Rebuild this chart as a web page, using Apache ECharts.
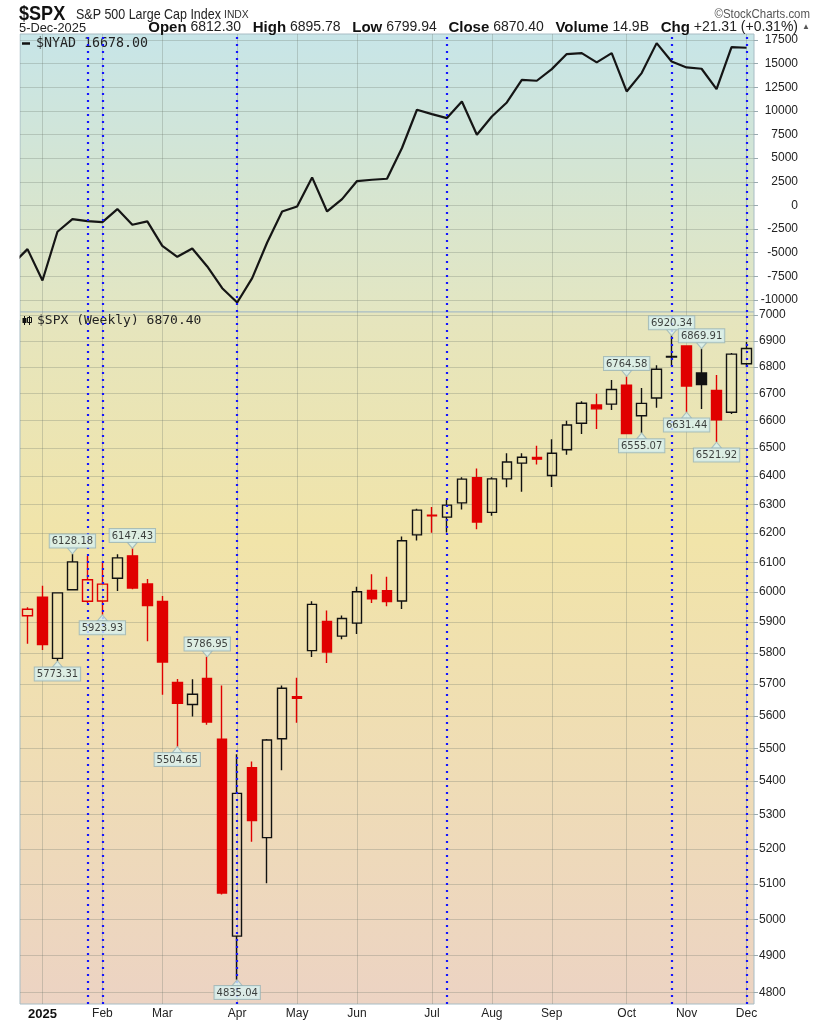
<!DOCTYPE html>
<html><head><meta charset="utf-8">
<script src="https://cdn.jsdelivr.net/npm/echarts@6/dist/echarts.min.js"></script>
<style>html,body{margin:0;padding:0;background:#fff}#c{width:819px;height:1024px}</style>
</head><body><div id="c"></div>
<script>
// ---- data ----
const weeks = ['2025-01-03','2025-01-10','2025-01-17','2025-01-24','2025-01-31',
 '2025-02-07','2025-02-14','2025-02-21','2025-02-28',
 '2025-03-07','2025-03-14','2025-03-21','2025-03-28',
 '2025-04-04','2025-04-11','2025-04-18','2025-04-25',
 '2025-05-02','2025-05-09','2025-05-16','2025-05-23','2025-05-30',
 '2025-06-06','2025-06-13','2025-06-20','2025-06-27',
 '2025-07-03','2025-07-11','2025-07-18','2025-07-25',
 '2025-08-01','2025-08-08','2025-08-15','2025-08-22','2025-08-29',
 '2025-09-05','2025-09-12','2025-09-19','2025-09-26',
 '2025-10-03','2025-10-10','2025-10-17','2025-10-24','2025-10-31',
 '2025-11-07','2025-11-14','2025-11-21','2025-11-28','2025-12-05'];
const opens  = [5920.7,5982.0,5782.0,6007.0,5969.0,5969.7,6046.0,6121.6,6026.7,5968.3,5705.4,5635.6,5718.1,5527.9,4953.8,5441.0,5232.9,5529.2,5655.3,5807.1,5902.0,5854.1,5896.7,6004.6,6004.0,5969.7,6193.4,6262.0,6255.2,6304.7,6394.0,6271.7,6389.7,6445.8,6466.0,6401.5,6494.2,6590.6,6658.0,6661.2,6732.0,6618.0,6684.0,6838.0,6880.0,6778.0,6712.0,6631.0,6812.30];
const highs  = [5949.3,6021.0,5998.0,6128.18,6120.9,6101.3,6127.5,6147.43,6043.6,5986.1,5716.0,5715.3,5786.95,5695.3,5481.3,5459.5,5528.1,5695.3,5720.1,5969.0,5938.4,5922.1,6016.9,6059.4,6050.8,6187.7,6284.7,6290.2,6315.6,6395.8,6427.0,6395.2,6481.3,6481.3,6508.2,6532.6,6600.2,6671.8,6699.5,6750.9,6764.58,6721.0,6807.1,6920.34,6882.0,6869.91,6770.0,6853.0,6895.78];
const lows   = [5829.5,5809.0,5773.31,6005.0,5962.9,5923.93,6003.0,6008.6,5837.7,5666.3,5504.65,5597.8,5572.4,5069.9,4835.04,5220.8,5101.6,5433.2,5578.6,5786.1,5767.4,5843.7,5861.4,5963.2,5952.6,5943.2,6174.0,6201.0,6201.6,6281.7,6212.7,6259.9,6360.0,6343.9,6441.0,6360.6,6476.2,6551.0,6570.0,6639.0,6550.0,6555.07,6647.9,6804.0,6631.44,6643.0,6521.92,6625.0,6799.94];
const closes = [5942.5,5827.0,5996.7,6101.2,6040.5,6026.0,6114.6,6013.1,5954.5,5770.2,5638.9,5667.6,5580.9,5074.1,5363.4,5282.7,5525.2,5686.7,5659.9,5958.4,5802.8,5911.7,6000.4,5977.0,5967.8,6173.1,6279.4,6259.8,6296.8,6388.6,6238.0,6389.5,6449.8,6466.9,6460.3,6481.5,6584.3,6664.4,6643.7,6715.8,6552.5,6664.0,6791.7,6840.2,6728.8,6734.1,6603.0,6849.1,6870.40];
const priorClose = 5970.84; // close of the week before the first candle
const priorNyad = -6200;    // NYAD of the week before the first candle (line enters from the left edge)
const nyad = [-4617,-7942,-2785,-1443,-1655,-1761,-384,-2044,-1690,-4268,-5433,-4550,-6456,-8751,-10270,-7690,-3915,-635,-106,2967,-635,674,2580,2720,2827,6075,10120,9660,9240,11000,7475,9415,10895,13290,13190,14420,16010,16110,15130,16110,12060,14000,17170,15230,14600,14460,12300,16750,16678];
const adTicks = [-10000,-7500,-5000,-2500,0,2500,5000,7500,10000,12500,15000,17500];
const priceTicks = [4800,4900,5000,5100,5200,5300,5400,5500,5600,5700,5800,5900,6000,6100,6200,6300,6400,6500,6600,6700,6800,6900,7000];
const monthIdx = [1,5,9,14,18,22,27,31,35,40,44,48];
const monthLabels = ['2025','Feb','Mar','Apr','May','Jun','Jul','Aug','Sep','Oct','Nov','Dec'];
const markerIdx = [4,5,14,28,43,48];
const highCalloutIdx = [3,7,12,40,43,45];
const lowCalloutIdx = [2,5,10,14,41,44,46];

// ---- chart ----
const L = Math.log;
const sans = "'Liberation Sans',Arial,sans-serif";
const mono = "'DejaVu Sans Mono',monospace";
const chart = echarts.init(document.getElementById('c'), null, {renderer:'canvas', width:819, height:1024});

const candleData = opens.map((o,i)=>{
  const c = closes[i];
  const prev = i===0 ? priorClose : closes[i-1];
  const stroke = c >= prev ? '#111111' : '#e00000';
  const fill = c > o ? 'rgba(0,0,0,0)' : stroke;
  return {value:[L(o),L(c),L(lows[i]),L(highs[i])],
          itemStyle:{color:fill,color0:fill,borderColor:stroke,borderColor0:stroke}};
});
const nyadData = [[-1,priorNyad]].concat(nyad.map((v,i)=>[i,v]));

const calloutLabel = {
  show:true, color:'#111', fontSize:10, fontFamily:"'DejaVu Sans',sans-serif",
  backgroundColor:'#d9f1f0', borderColor:'#98b4b8', borderWidth:1, padding:[2,2,1,2],
  formatter:p=>p.data[2].toFixed(2)
};
const gridLineColor = 'rgba(105,115,105,0.28)';
const dotted = {color:'#1414ff', width:2.2, type:[2,5], cap:'butt'};
const topBg = new echarts.graphic.LinearGradient(0,0,0,1,[{offset:0,color:'#c7e5e8'},{offset:0.5,color:'#d4e5d3'},{offset:1,color:'#e3e6c2'}]);
const botBg = new echarts.graphic.LinearGradient(0,0,0,1,[{offset:0,color:'#e5e5be'},{offset:0.33,color:'#f1e4a9'},{offset:0.68,color:'#efdcb6'},{offset:1,color:'#ecd3c3'}]);

const option = {
  animation:false,
  backgroundColor:'#ffffff',
  grid:[
    {left:20,right:65,top:34,height:278,show:true,backgroundColor:topBg,borderColor:'#a8bcc4',borderWidth:1},
    {left:20,right:65,top:312,height:692,show:true,backgroundColor:botBg,borderColor:'#a8bcc4',borderWidth:1}
  ],
  xAxis:[
    {gridIndex:0,type:'value',min:-0.5,max:weeks.length-0.5,axisLine:{show:false,onZero:false},axisTick:{show:false},axisLabel:{show:false},splitLine:{show:false}},
    {gridIndex:1,type:'category',data:weeks,axisLine:{show:false},axisTick:{show:false},splitLine:{show:false},
     axisLabel:{interval:(i)=>monthIdx.includes(i),margin:4,color:'#222',fontSize:12,fontFamily:sans,
       formatter:(v,i)=>{const k=monthIdx.indexOf(i);const t=monthLabels[k]||'';return k===0?'{y|'+t+'}':t;},
       rich:{y:{fontWeight:'bold',fontSize:13,fontFamily:sans,color:'#111'}}}}
  ],
  yAxis:[
    {gridIndex:0,type:'value',position:'right',min:-11270,max:18135,
     axisLine:{show:false,onZero:false},
     axisTick:{show:true,customValues:adTicks,length:4,lineStyle:{color:'#9aaab0'}},
     axisLabel:{customValues:adTicks,align:'right',margin:44,color:'#222',fontSize:12,fontFamily:sans,
       formatter:v=>String(Math.round(v))},
     splitLine:{show:true,lineStyle:{color:gridLineColor,width:1}}},
    {gridIndex:1,type:'value',position:'right',min:L(4770),max:L(7011.7),
     axisLine:{show:false,onZero:false},
     axisTick:{show:true,customValues:priceTicks.map(L),length:4,lineStyle:{color:'#9aaab0'}},
     axisLabel:{customValues:priceTicks.map(L),align:'left',margin:5,color:'#222',fontSize:12,fontFamily:sans,
       formatter:v=>String(Math.round(Math.exp(v)))},
     splitLine:{show:true,lineStyle:{color:gridLineColor,width:1}}}
  ],
  graphic:[
    {type:'rect',shape:{x:0,y:30,width:19.5,height:290},style:{fill:'#ffffff'},z:50},
    {type:'text',x:19,y:4,scaleX:0.86,style:{text:'$SPX',font:"bold 21px "+sans,fill:'#111'}},
    {type:'text',x:76,y:7,scaleX:0.86,style:{text:'S&P 500 Large Cap Index',font:"14.5px "+sans,fill:'#222'}},
    {type:'text',x:224,y:9,scaleX:0.9,style:{text:'INDX',font:"11.5px "+sans,fill:'#333'}},
    {type:'text',x:810,y:8,scaleX:0.88,style:{text:'©StockCharts.com',font:"13px "+sans,fill:'#555',align:'right'}},
    {type:'text',x:19,y:21,scaleX:0.95,style:{text:'5-Dec-2025',font:"13.5px "+sans,fill:'#222'}},
    {type:'text',x:798,y:20,scaleX:1.0,style:{
      text:'{b|Open} 6812.30   {b|High} 6895.78   {b|Low} 6799.94   {b|Close} 6870.40   {b|Volume} 14.9B   {b|Chg} +21.31 (+0.31%)',
      align:'right',font:"14px "+sans,fill:'#222',rich:{b:{fontWeight:'bold',fontSize:15,fontFamily:sans,fill:'#111'}}}},
    {type:'text',x:802,y:23,style:{text:'▲',font:"8px "+sans,fill:'#555'}},
    {type:'line',shape:{x1:22,y1:43.5,x2:30,y2:43.5},style:{stroke:'#111',lineWidth:2.5}},
    {type:'text',x:36,y:37,style:{text:'$NYAD 16678.00',font:"13.3px "+mono,fill:'#222'}},
    {type:'line',shape:{x1:24.5,y1:316,x2:24.5,y2:325},style:{stroke:'#111',lineWidth:1}},
    {type:'rect',shape:{x:22.5,y:318,width:4,height:5},style:{fill:'#111'}},
    {type:'line',shape:{x1:29.5,y1:316,x2:29.5,y2:325},style:{stroke:'#111',lineWidth:1}},
    {type:'rect',shape:{x:27.5,y:317.5,width:4,height:5},style:{fill:'none',stroke:'#111',lineWidth:1}},
    {type:'text',x:37,y:314,style:{text:'$SPX (Weekly) 6870.40',font:"13px "+mono,fill:'#222'}}
  ],
  series:[
    {type:'line',xAxisIndex:0,yAxisIndex:0,data:[],silent:true,
     markLine:{z:1,silent:true,symbol:'none',label:{show:false},lineStyle:{color:gridLineColor,type:'solid',width:1},
       data:monthIdx.map(i=>({xAxis:i}))}},
    {type:'line',xAxisIndex:1,yAxisIndex:1,data:[],silent:true,
     markLine:{z:1,silent:true,symbol:'none',label:{show:false},lineStyle:{color:gridLineColor,type:'solid',width:1},
       data:monthIdx.map(i=>({xAxis:weeks[i]}))}},
    {type:'line',xAxisIndex:0,yAxisIndex:0,data:nyadData,symbol:'none',z:3,clip:true,
     lineStyle:{color:'#151515',width:2.2},
     markLine:{silent:true,symbol:'none',label:{show:false},lineStyle:dotted,
       data:markerIdx.map(i=>({xAxis:i}))}},
    {type:'candlestick',xAxisIndex:1,yAxisIndex:1,data:candleData,barWidth:10,z:3,
     itemStyle:{borderWidth:1.4},
     markLine:{silent:true,symbol:'none',label:{show:false},lineStyle:dotted,
       data:markerIdx.map(i=>({xAxis:weeks[i]}))}},
    {type:'scatter',xAxisIndex:1,yAxisIndex:1,z:6,
     data:highCalloutIdx.map(i=>[i,L(highs[i]),highs[i]]),
     symbol:'triangle',symbolSize:[10,6],symbolRotate:180,symbolOffset:[0,-3],
     itemStyle:{color:'#d9f1f0',borderColor:'#98b4b8',borderWidth:1},
     label:Object.assign({position:'top',distance:0},calloutLabel)},
    {type:'scatter',xAxisIndex:1,yAxisIndex:1,z:6,
     data:lowCalloutIdx.map(i=>[i,L(lows[i]),lows[i]]),
     symbol:'triangle',symbolSize:[10,6],symbolOffset:[0,3],
     itemStyle:{color:'#d9f1f0',borderColor:'#98b4b8',borderWidth:1},
     label:Object.assign({position:'bottom',distance:0},calloutLabel)}
  ]
};
chart.setOption(option);
</script>
</body></html>
